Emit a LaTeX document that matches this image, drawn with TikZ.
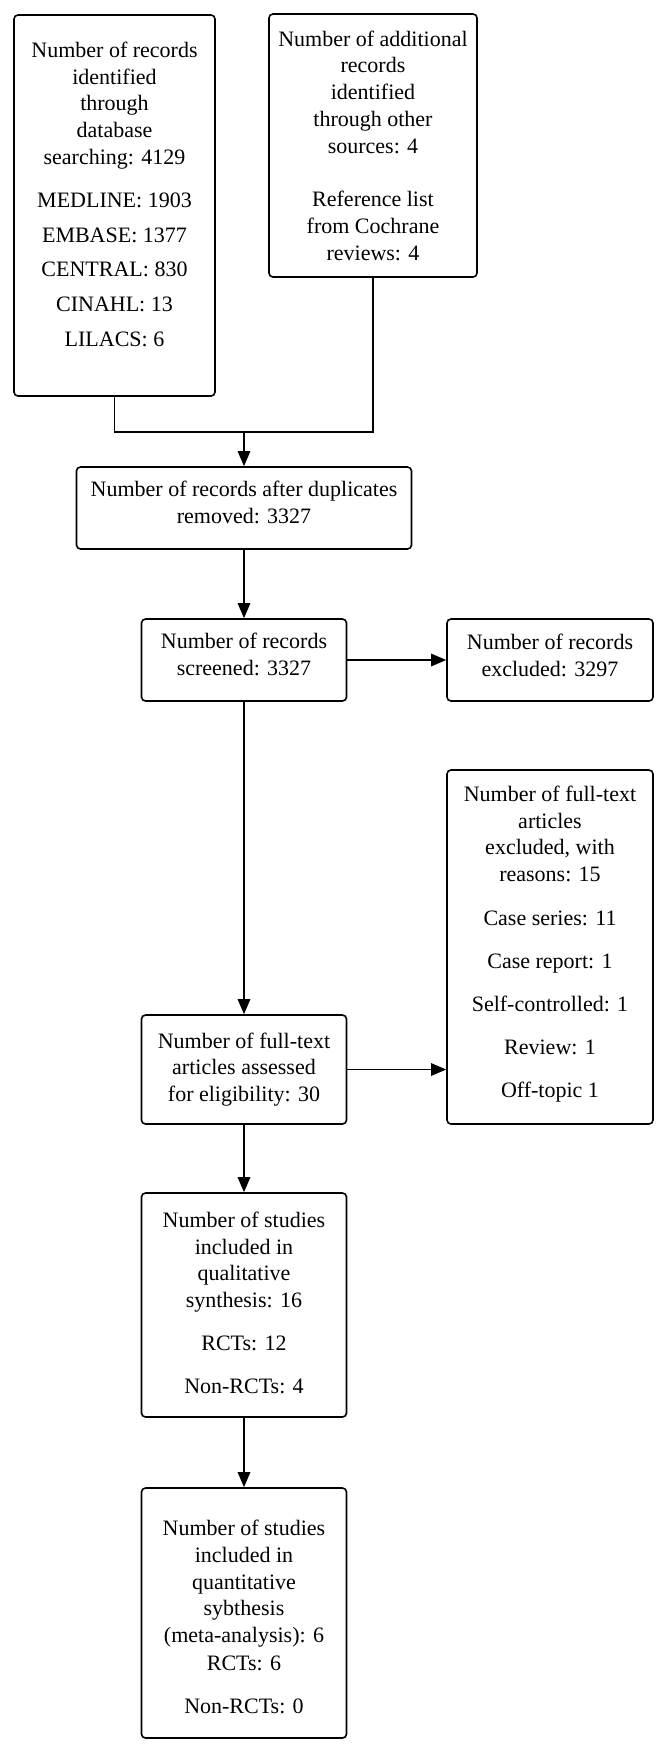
\documentclass[tikz,border=0pt]{standalone}
\usepackage{fontspec}
\setmainfont{Liberation Serif}
\usepackage{tikz}
\usetikzlibrary{arrows.meta, positioning}

\tikzset{
  box/.style={draw, rounded corners=2pt, align=center, inner sep=0pt, line width=0.8pt,
    font=\fontsize{11}{13.4}\selectfont},
  arr/.style={-{Triangle[length=7.5pt, width=6.2pt]}, line width=0.8pt},
}

\begin{document}
\begin{tikzpicture}[x=0.5pt, y=-0.5pt]
  \useasboundingbox (0,0) rectangle (668,1753);
  % each box: \node[box, minimum width=w, minimum height=h] (name) at (cx,cy) {...};
  \node[box, minimum width=100.5pt, minimum height=190.5pt] (search) at (114.5,205.5)
    {Number of records\\identified\\through\\database\\searching: 4129\\[8.2pt]%
     MEDLINE: 1903\\[3.9pt]EMBASE: 1377\\[3.9pt]CENTRAL: 830\\[3.9pt]CINAHL: 13\\[3.9pt]%
     LILACS: 6\rule[-11.5pt]{0pt}{11.5pt}};
  \node[box, minimum width=104pt, minimum height=131.5pt] (other) at (373,145.5)
    {Number of additional\\records\\identified\\through other\\sources: 4\\[13.2pt]%
     Reference list\\from Cochrane\\reviews: 4};
  \node[box, minimum width=167.5pt, minimum height=41pt] (dedup) at (244,508)
    {Number of records after duplicates\\removed: 3327\rule[-5.5pt]{0pt}{5.5pt}};
  \node[box, minimum width=102.5pt, minimum height=41pt] (screened) at (244,660)
    {Number of records\\screened: 3327\rule[-5.5pt]{0pt}{5.5pt}};
  \node[box, minimum width=103pt, minimum height=41pt] (excluded) at (550,660)
    {Number of records\\excluded: 3297\rule[-5pt]{0pt}{5pt}};
  \node[box, minimum width=102.5pt, minimum height=54.5pt] (fulltext) at (244,1069.5)
    {Number of full-text\\articles assessed\\for eligibility: 30};
  \node[box, minimum width=103pt, minimum height=177pt] (ftexcl) at (550,947)
    {Number of full-text\\articles\\excluded, with\\reasons: 15\\[8.5pt]%
     Case series: 11\\[8.2pt]Case report: 1\\[8pt]Self-controlled: 1\\[8pt]%
     Review: 1\\[8pt]Off-topic 1\rule[-5.6pt]{0pt}{5.6pt}};
  \node[box, minimum width=102.5pt, minimum height=112pt] (qual) at (244,1305)
    {Number of studies\\included in\\qualitative\\synthesis: 16\\[8pt]%
     RCTs: 12\\[8pt]Non-RCTs: 4\rule[-2.5pt]{0pt}{2.5pt}};
  \node[box, minimum width=102.5pt, minimum height=125pt] (quant) at (244,1613)
    {\rule{0pt}{11.6pt}Number of studies\\included in\\quantitative\\sybthesis\\%
     (meta-analysis): 6\\[0.5pt]RCTs: 6\\[8pt]Non-RCTs: 0};

  \coordinate (merge) at (244,432);
  \draw[line width=0.8pt] (search.south) |- (merge) -| (other.south);
  \draw[arr] (merge) -- (dedup.north);
  \draw[arr] (dedup) -- (screened);
  \draw[arr] (screened) -- (excluded);
  \draw[arr] (screened) -- (fulltext);
  \draw[arr] (fulltext.east) -- (fulltext.east -| ftexcl.west);
  \draw[arr] (fulltext) -- (qual);
  \draw[arr] (qual) -- (quant);
\end{tikzpicture}
\end{document}
